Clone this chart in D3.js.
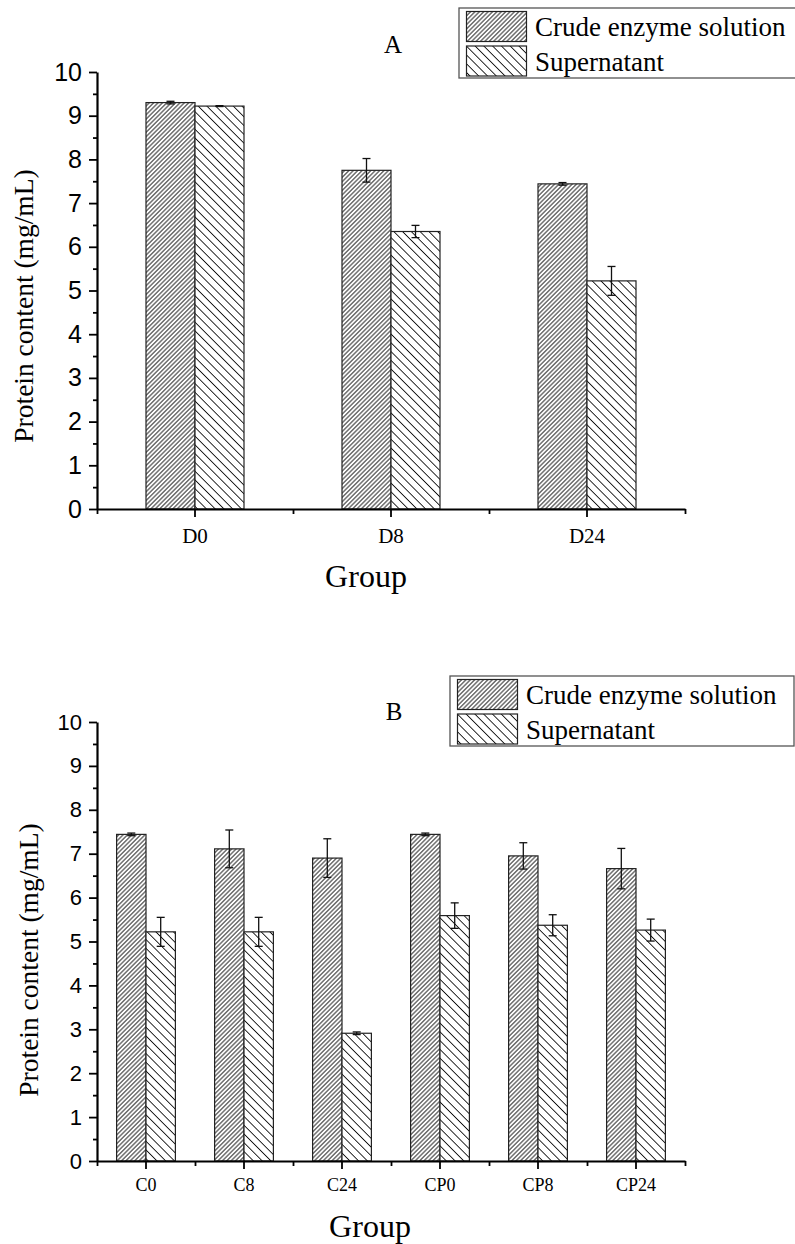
<!DOCTYPE html>
<html>
<head>
<meta charset="utf-8">
<script src="https://cdn.jsdelivr.net/npm/d3@7"></script>
<style>
    html, body { margin: 0; padding: 0; background: #fff; }
    svg { display: block; }
</style>
</head>
<body>
<svg id="chart" width="795" height="1244"></svg>
<script>
// panel A data
const groupsA = ['D0', 'D8', 'D24'];
const crudeA = [9.30, 7.75, 7.44];
const crudeErrA = [0.03, 0.27, 0.03];
const superA = [9.22, 6.35, 5.22];
const superErrA = [0.01, 0.14, 0.33];

// panel B data
const groupsB = ['C0', 'C8', 'C24', 'CP0', 'CP8', 'CP24'];
const crudeB = [7.44, 7.11, 6.90, 7.44, 6.95, 6.66];
const crudeErrB = [0.03, 0.43, 0.44, 0.03, 0.30, 0.46];
const superB = [5.22, 5.22, 2.91, 5.59, 5.37, 5.26];
const superErrB = [0.33, 0.33, 0.03, 0.29, 0.24, 0.25];

const seriesNames = ['Crude enzyme solution', 'Supernatant'];
const yTicks = d3.range(0, 11);
const yMinorTicks = d3.range(0.5, 10, 1);

const SERIF = '"Liberation Serif", "Times New Roman", Times, serif';
const SANS = '"Liberation Sans", Arial, Helvetica, sans-serif';

const svg = d3.select('#chart');

// hatch patterns
const defs = svg.append('defs');
function hatch(id, spacing, angle) {
    const p = defs.append('pattern')
        .attr('id', id)
        .attr('patternUnits', 'userSpaceOnUse')
        .attr('width', spacing)
        .attr('height', 10)
        .attr('patternTransform', `rotate(${angle})`);
    p.append('rect').attr('width', spacing).attr('height', 10).attr('fill', '#fff');
    p.append('line')
        .attr('x1', spacing / 2).attr('y1', 0)
        .attr('x2', spacing / 2).attr('y2', 10)
        .attr('stroke', '#111')
        .attr('stroke-width', 0.9);
}
hatch('crude', 3.1, 45);
hatch('super', 6.2, -45);
const fills = ['url(#crude)', 'url(#super)'];

function drawPanel(cfg) {
    const g = svg.append('g');
    const x = d3.scaleBand().domain(cfg.groups).range([cfg.left, cfg.right]);
    const y = d3.scaleLinear().domain([0, 10]).range([cfg.bottom, cfg.top]);
    const barW = x.bandwidth() * cfg.barFrac;

    const series = [
        { vals: cfg.crude, errs: cfg.crudeErr, off: -barW, fill: fills[0] },
        { vals: cfg.sup, errs: cfg.supErr, off: 0, fill: fills[1] }
    ];

    // bars
    series.forEach(s => {
        g.append('g').selectAll('rect')
            .data(cfg.groups)
            .enter()
            .append('rect')
            .attr('x', (d) => x(d) + x.bandwidth() / 2 + s.off)
            .attr('y', (d, i) => y(s.vals[i]))
            .attr('width', barW)
            .attr('height', (d, i) => y(0) - y(s.vals[i]))
            .attr('fill', s.fill)
            .attr('stroke', '#222')
            .attr('stroke-width', 1.2);
    });

    // error bars
    series.forEach(s => {
        const eg = g.append('g').attr('stroke', '#111').attr('stroke-width', 1.3);
        cfg.groups.forEach((d, i) => {
            const cx = x(d) + x.bandwidth() / 2 + s.off + barW / 2;
            const hi = y(s.vals[i] + s.errs[i]);
            const lo = y(s.vals[i] - s.errs[i]);
            eg.append('line').attr('x1', cx).attr('x2', cx).attr('y1', hi).attr('y2', lo);
            eg.append('line').attr('x1', cx - 4).attr('x2', cx + 4).attr('y1', hi).attr('y2', hi);
            eg.append('line').attr('x1', cx - 4).attr('x2', cx + 4).attr('y1', lo).attr('y2', lo);
        });
    });

    // y axis
    const yAxis = g.append('g')
        .attr('transform', `translate(${cfg.left},0)`)
        .call(d3.axisLeft(y).tickValues(yTicks).tickSize(8).tickSizeOuter(0).tickPadding(7));
    yAxis.select('.domain').attr('stroke-width', 2.2);
    yAxis.selectAll('.tick line').attr('stroke-width', 1.8);
    yAxis.selectAll('text')
        .style('font-family', SANS)
        .style('font-size', cfg.yTickFont + 'px')
        .attr('fill', '#000');
    g.append('g')
        .attr('transform', `translate(${cfg.left},0)`)
        .call(d3.axisLeft(y).tickValues(yMinorTicks).tickSize(4).tickFormat(''))
        .call(a => a.select('.domain').remove())
        .selectAll('line').attr('stroke-width', 1.8);

    // x axis
    const xAxis = g.append('g')
        .attr('transform', `translate(0,${cfg.bottom})`)
        .call(d3.axisBottom(x).tickSize(8).tickSizeOuter(0));
    xAxis.select('.domain').attr('stroke-width', 2.2);
    xAxis.selectAll('.tick line').attr('stroke-width', 1.8);
    xAxis.selectAll('text')
        .style('font-family', SERIF)
        .style('font-size', cfg.xTickFont + 'px')
        .attr('fill', '#000')
        .attr('y', cfg.xLabelY)
        .attr('dy', 0);
    const xEdge = d3.scaleLinear().domain([0, cfg.groups.length]).range([cfg.left, cfg.right]);
    g.append('g')
        .attr('transform', `translate(0,${cfg.bottom})`)
        .call(d3.axisBottom(xEdge).tickValues(d3.range(cfg.groups.length + 1)).tickSize(5).tickFormat(''))
        .call(a => a.select('.domain').remove())
        .selectAll('line').attr('stroke-width', 1.8);

    // axis titles
    g.append('text')
        .style('font-family', SERIF)
        .style('font-size', '32px')
        .attr('x', cfg.groupX)
        .attr('y', cfg.groupY)
        .attr('text-anchor', 'middle')
        .text('Group');
    g.append('text')
        .style('font-family', SERIF)
        .style('font-size', '27.5px')
        .attr('transform', `translate(${cfg.ytitleX},${cfg.ytitleY}) rotate(-90)`)
        .attr('text-anchor', 'middle')
        .text('Protein content (mg/mL)');

    // panel letter
    g.append('text')
        .style('font-family', SERIF)
        .style('font-size', '25px')
        .attr('x', cfg.letterX)
        .attr('y', cfg.letterY)
        .attr('text-anchor', 'middle')
        .text(cfg.letter);

    // legend
    const lg = g.append('g').attr('transform', `translate(${cfg.legX},${cfg.legY})`);
    lg.append('rect')
        .attr('width', 344).attr('height', 70)
        .attr('fill', '#fff')
        .attr('stroke', '#555')
        .attr('stroke-width', 1.3);
    seriesNames.forEach((name, i) => {
        lg.append('rect')
            .attr('x', 7.5).attr('y', 3.5 + i * 34.5)
            .attr('width', 60).attr('height', 30)
            .attr('fill', fills[i])
            .attr('stroke', '#222')
            .attr('stroke-width', 1.2);
        lg.append('text')
            .style('font-family', SERIF)
            .style('font-size', '27px')
            .attr('x', 76)
            .attr('y', 28 + i * 34.5)
            .text(name);
    });
}

drawPanel({
    groups: groupsA, crude: crudeA, crudeErr: crudeErrA, sup: superA, supErr: superErrA,
    left: 97, right: 685, top: 72, bottom: 509, barFrac: 0.25,
    yTickFont: 25, xTickFont: 21, xLabelY: 34,
    groupX: 366, groupY: 587, ytitleX: 33, ytitleY: 306,
    letter: 'A', letterX: 393, letterY: 53,
    legX: 459, legY: 8
});

drawPanel({
    groups: groupsB, crude: crudeB, crudeErr: crudeErrB, sup: superB, supErr: superErrB,
    left: 97, right: 685, top: 722, bottom: 1161, barFrac: 0.3,
    yTickFont: 22, xTickFont: 18, xLabelY: 30,
    groupX: 370, groupY: 1237, ytitleX: 38, ytitleY: 960,
    letter: 'B', letterX: 394, letterY: 720,
    legX: 450, legY: 676
});
</script>
</body>
</html>
